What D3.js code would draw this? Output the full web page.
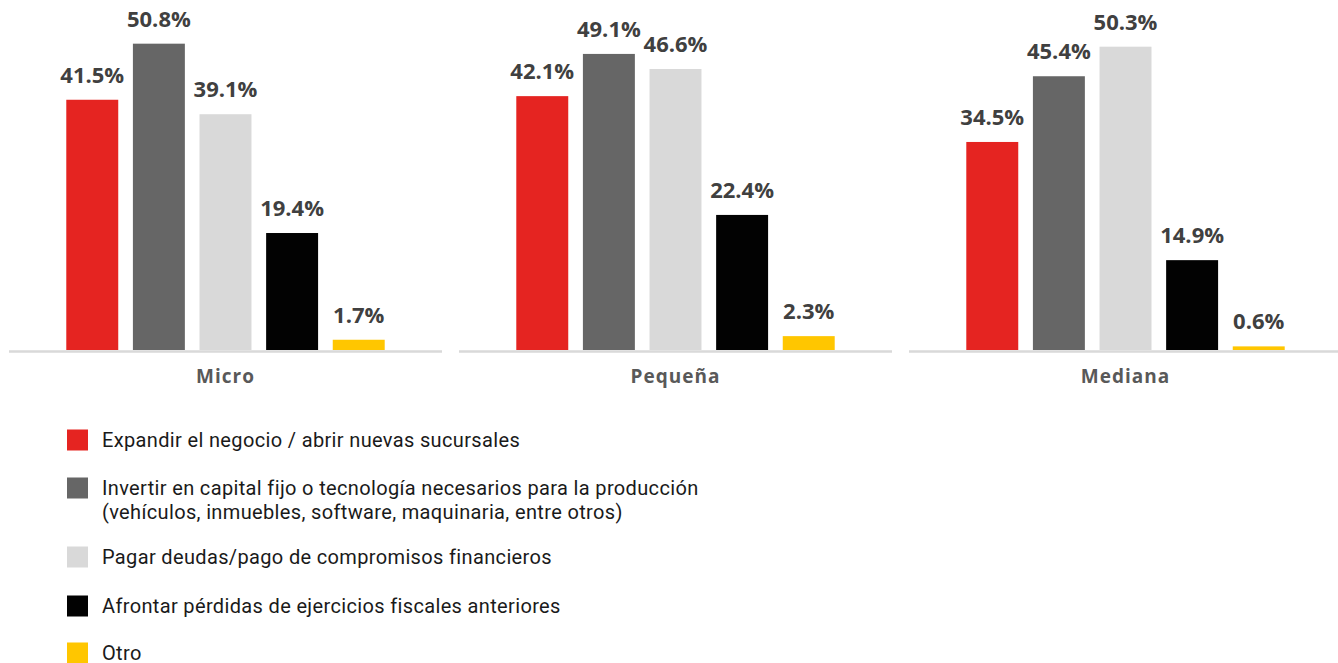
<!DOCTYPE html>
<html>
<head>
<meta charset="utf-8">
<script src="https://cdn.jsdelivr.net/npm/d3@7"></script>
<style>
  html, body { margin: 0; padding: 0; background: #fff; }
  svg { display: block; }
</style>
</head>
<body>
<svg id="chart" width="1338" height="663"></svg>
<script>
// Company size groups
const groups = ["Micro", "Pequeña", "Mediana"];

// Destination of the financing (one series per bar colour)
const series = [
  ["Expandir el negocio / abrir nuevas sucursales"],
  ["Invertir en capital fijo o tecnología necesarios para la producción",
   "(vehículos, inmuebles, software, maquinaria, entre otros)"],
  ["Pagar deudas/pago de compromisos financieros"],
  ["Afrontar pérdidas de ejercicios fiscales anteriores"],
  ["Otro"]
];
const seriesKeys = ["expandir", "invertir", "pagar", "afrontar", "otro"];
const colors = ["#E52421", "#666666", "#D9D9D9", "#020202", "#FFC600"];

// Percentages per group, in series order
const microValues   = [41.5, 50.8, 39.1, 19.4, 1.7];
const pequenaValues = [42.1, 49.1, 46.6, 22.4, 2.3];
const medianaValues = [34.5, 45.4, 50.3, 14.9, 0.6];
const groupValues = [microValues, pequenaValues, medianaValues];

const svg = d3.select("#chart");

// Scales
const gx = d3.scaleBand().domain(groups).range([9, 1342]).paddingInner(0.0378);
const bx = d3.scaleBand().domain(seriesKeys).range([0, gx.bandwidth()])
  .paddingInner(0.22).paddingOuter(0.86);
const y = d3.scaleLinear().domain([0, 50]).range([350, 48.5]);

const panel = svg.selectAll("g.panel")
  .data(groups.map((g, i) => ({ group: g, values: groupValues[i] })))
  .join("g")
  .attr("class", "panel")
  .attr("transform", d => `translate(${gx(d.group)},0)`);

// Bars
panel.selectAll("rect.bar")
  .data(d => d.values.map((v, i) => ({ key: seriesKeys[i], value: v, color: colors[i] })))
  .join("rect")
  .attr("class", "bar")
  .attr("x", d => bx(d.key))
  .attr("width", bx.bandwidth())
  .attr("y", d => y(d.value))
  .attr("height", d => y(0) - y(d.value))
  .attr("fill", d => d.color);

// Baseline per panel
panel.append("line")
  .attr("x1", 0).attr("x2", gx.bandwidth())
  .attr("y1", y(0) + 1.5).attr("y2", y(0) + 1.5)
  .attr("stroke", "#D9D9D9").attr("stroke-width", 2.5);

// Value labels
panel.selectAll("text.value")
  .data(d => d.values.map((v, i) => ({ key: seriesKeys[i], value: v })))
  .join("text")
  .attr("class", "value")
  .attr("x", d => bx(d.key) + bx.bandwidth() / 2)
  .attr("y", d => y(d.value) - 17)
  .attr("text-anchor", "middle")
  .attr("font-family", "'Open Sans', sans-serif")
  .attr("font-weight", 700)
  .attr("font-size", 22)
  .attr("fill", "#404040")
  .text(d => d.value.toFixed(1) + "%");

// Group labels
panel.append("text")
  .attr("x", gx.bandwidth() / 2)
  .attr("y", 383)
  .attr("text-anchor", "middle")
  .attr("font-family", "'Open Sans', sans-serif")
  .attr("font-weight", 700)
  .attr("font-size", 19)
  .attr("letter-spacing", 1)
  .attr("fill", "#595959")
  .text(d => d.group);

// Legend
const legendRows = [440, 488, 557, 606, 653];
const legend = svg.append("g").attr("class", "legend");
const item = legend.selectAll("g.item")
  .data(series.map((lines, i) => ({ lines, color: colors[i], cy: legendRows[i] })))
  .join("g")
  .attr("class", "item");

item.append("rect")
  .attr("x", 67).attr("y", d => d.cy - 10.5)
  .attr("width", 21).attr("height", 21)
  .attr("fill", d => d.color);

item.append("text")
  .attr("font-family", "Roboto, sans-serif")
  .attr("font-size", 20)
  .attr("letter-spacing", 0.35)
  .attr("fill", "#1a1a1a")
  .selectAll("tspan")
  .data(d => d.lines.map((t, j) => ({ t, y: d.cy + 7 + j * 24 })))
  .join("tspan")
  .attr("x", 102)
  .attr("y", d => d.y)
  .text(d => d.t);
</script>
</body>
</html>
